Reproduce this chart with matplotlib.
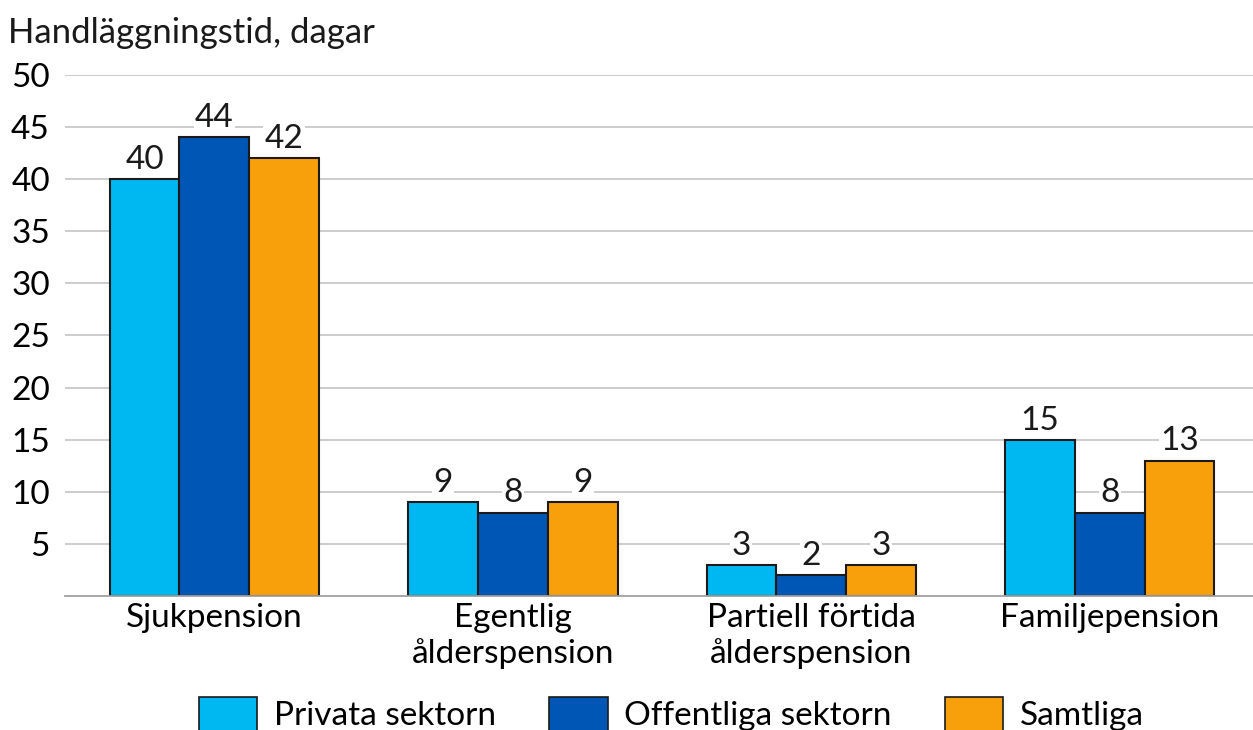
import matplotlib.pyplot as plt
import numpy as np
from matplotlib.patches import Patch

plt.rcParams['font.family'] = ['Lato', 'DejaVu Sans']

categories = ['Sjukpension', 'Egentlig\nålderspension', 'Partiell förtida\nålderspension', 'Familjepension']
privata = [40, 9, 3, 15]
offentliga = [44, 8, 2, 8]
samtliga = [42, 9, 3, 13]
series_names = ['Privata sektorn', 'Offentliga sektorn', 'Samtliga']
colors = ['#00B8F1', '#0056B4', '#F8A00C']

fs = 24
fig = plt.figure(figsize=(12.53, 7.3), dpi=100)
ax = fig.add_axes([0.052, 0.1836, 0.948, 0.7137])

x = np.arange(len(categories))
w = 0.234
for i, vals in enumerate([privata, offentliga, samtliga]):
    bars = ax.bar(x + (i - 1) * w, vals, w, color=colors[i], edgecolor='#1a1a1a',
                  linewidth=1.5, zorder=3)
    for b, v in zip(bars, vals):
        ax.text(b.get_x() + b.get_width() / 2, v + 0.4, str(v), ha='center', va='bottom',
                fontsize=fs, color='#1a1a1a', zorder=4,
                bbox=dict(facecolor='white', edgecolor='none', pad=1.0))

ax.set_xlim(-0.5, 3.48)
ax.set_ylim(0, 50)
ax.set_yticks(range(5, 51, 5))
ax.yaxis.grid(True, color='#c8c8c8', linewidth=1.3, zorder=0)
ax.set_xticks(x)
ax.set_xticklabels(categories, fontsize=fs, linespacing=1.2)
ax.tick_params(axis='y', labelsize=fs, length=0, pad=11)
ax.tick_params(axis='x', length=0, pad=5)
for s in ['top', 'right', 'left']:
    ax.spines[s].set_visible(False)
ax.spines['bottom'].set_color('#a0a0a0')
ax.spines['bottom'].set_linewidth(1.3)
ax.spines['bottom'].set_zorder(5)

fig.text(0.006, 0.955, 'Handläggningstid, dagar', fontsize=25, va='center', ha='left', color='#1a1a1a')

handles = [Patch(facecolor=c, edgecolor='#1a1a1a', linewidth=1.2) for c in colors]
fig.legend(handles, series_names, loc='center', bbox_to_anchor=(0.536, 0.022), ncol=3,
           frameon=False, fontsize=fs, handlelength=1.75, handleheight=1.2,
           columnspacing=1.6, handletextpad=0.5, borderpad=0)

fig.savefig('out.png', dpi=100)
